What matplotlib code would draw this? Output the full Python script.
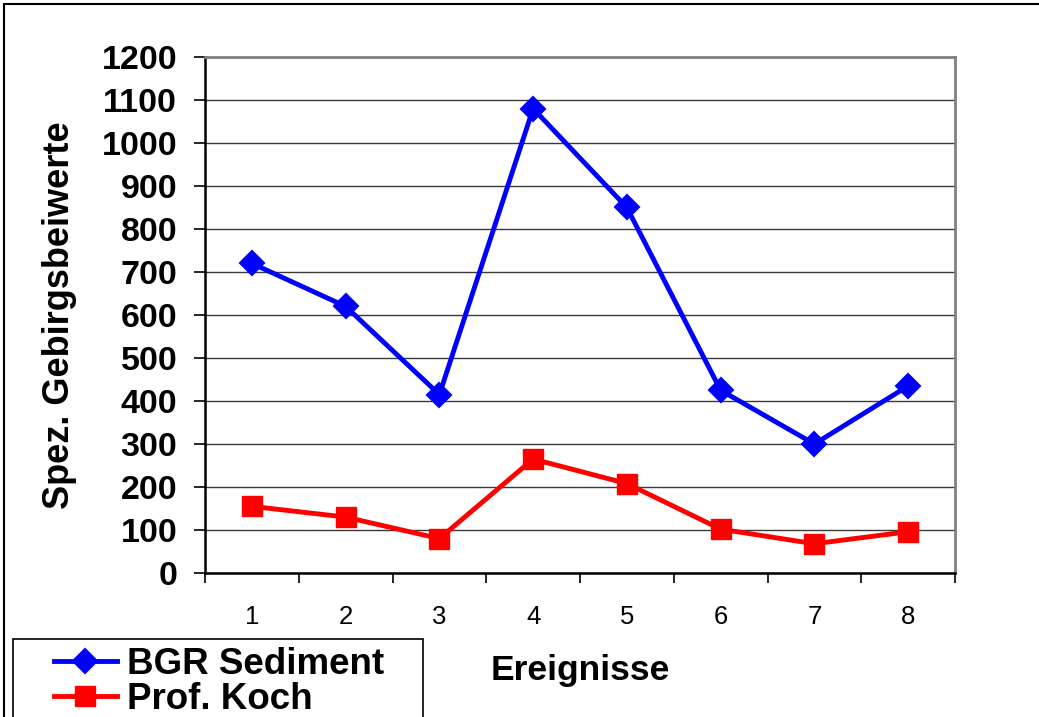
import numpy as np
import matplotlib
matplotlib.use('Agg')
import matplotlib.pyplot as plt
from matplotlib.patches import Rectangle


# Data: spez. Gebirgsbeiwerte je Ereignis
ereignisse = [1, 2, 3, 4, 5, 6, 7, 8]
bgr_sediment = [720, 620, 415, 1080, 850, 425, 300, 435]
prof_koch = [155, 130, 80, 265, 208, 102, 68, 96]

y_ticks = list(range(0, 1201, 100))

plt.rcParams['font.family'] = ['Liberation Sans', 'DejaVu Sans']

fig = plt.figure(figsize=(10.39, 7.17), dpi=100)
ax = fig.add_axes([205/1039, 1 - 573/717, 750/1039, 516/717])

ax.plot(ereignisse, bgr_sediment, color='#0000ff', linewidth=3.5,
        marker='D', markersize=12, markeredgewidth=1.5, label='BGR Sediment', zorder=3)
ax.plot(ereignisse, prof_koch, color='#ff0000', linewidth=3.5,
        marker='s', markersize=15, markeredgewidth=1, label='Prof. Koch', zorder=3)

ax.set_xlim(0.5, 8.5)
ax.set_ylim(0, 1200)

# y axis
ax.set_yticks(y_ticks)
ax.set_yticklabels([str(v) for v in y_ticks], fontsize=24.5, fontweight='bold')
ax.tick_params(axis='y', direction='out', length=8, width=1.2, pad=12)
ax.grid(axis='y', color='#3a3a3a', linewidth=1)
ax.set_axisbelow(True)

# x axis: ticks between categories, labels centred
ax.set_xticks(np.arange(0.5, 9, 1))
ax.set_xticklabels([])
ax.set_xticks(ereignisse, minor=True)
ax.set_xticklabels([str(e) for e in ereignisse], minor=True, fontsize=18.5)
ax.tick_params(axis='x', which='major', direction='out', length=7, width=1.2)
ax.tick_params(axis='x', which='minor', length=0, pad=23)

for side in ['left', 'bottom']:
    ax.spines[side].set_color('black')
    ax.spines[side].set_linewidth(1.8)
for side in ['top', 'right']:
    ax.spines[side].set_color('#808080')
    ax.spines[side].set_linewidth(2)

ax.set_ylabel('Spez. Gebirgsbeiwerte', fontsize=26, fontweight='bold')
ax.yaxis.set_label_coords(-0.171, 0.5)
ax.set_xlabel('Ereignisse', fontsize=25.5, fontweight='bold')
ax.xaxis.set_label_coords(0.5, -0.157)
ax.xaxis.label.set_va('top')

# legend box at the lower left
fig.add_artist(Rectangle((13/1039, -0.1), 410/1039, 0.1 + 1 - 639/717,
                         transform=fig.transFigure, fill=False,
                         edgecolor='black', linewidth=1.2))
leg = fig.legend(loc='upper left', bbox_to_anchor=(54/1039, 1 - 647/717),
                 frameon=False, prop={'size': 26.5, 'weight': 'bold'},
                 handlelength=1.7, handletextpad=0.27, labelspacing=0,
                 borderpad=0, borderaxespad=0)

# outer chart border
fig.add_artist(Rectangle((4/1039, -0.1), 1.1, 1.1 - 4/717,
                         transform=fig.transFigure, fill=False,
                         edgecolor='black', linewidth=1.5))

fig.savefig('out.png', dpi=100)
